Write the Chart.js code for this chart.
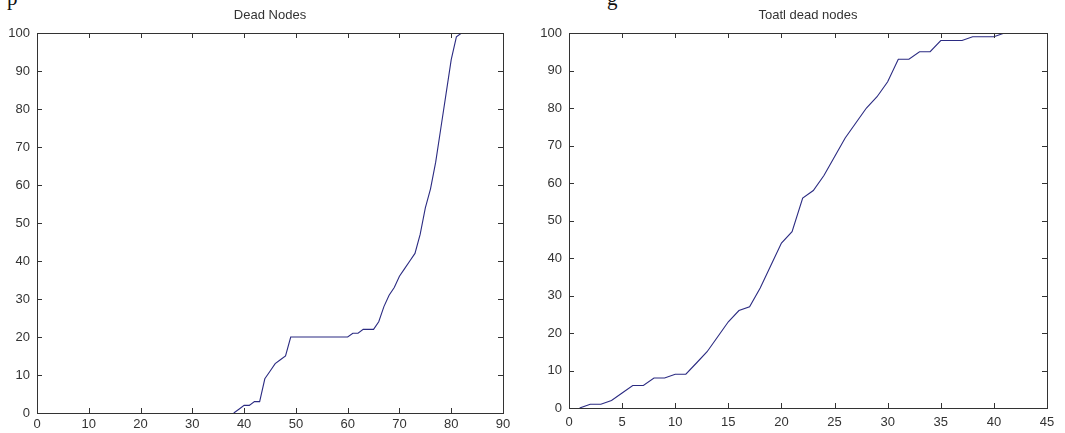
<!DOCTYPE html>
<html>
<head>
<meta charset="utf-8">
<script src="https://cdn.jsdelivr.net/npm/chart.js@4.4.1/dist/chart.umd.min.js"></script>
<style>
  body { margin: 0; background: #fff; width: 1065px; height: 433px; overflow: hidden; position: relative; }
  canvas { position: absolute; top: 0; }
  .cut { position: absolute; top: -14px; font: 21px 'Liberation Serif', 'Times New Roman', serif; color: #111; }
</style>
</head>
<body>
<div class="cut" style="left:7px;">p</div>
<div class="cut" style="left:607px;">g</div>
<canvas id="deadChart" width="530" height="433" style="left:0;"></canvas>
<canvas id="totalChart" width="535" height="433" style="left:530px;"></canvas>
<script>
// --- DATA ---
const deadRounds = [38, 39, 40, 41, 42, 43, 44, 45, 46, 47, 48, 49, 50, 51, 52, 53, 54, 55, 56, 57, 58, 59, 60,
  61, 62, 63, 64, 65, 66, 67, 68, 69, 70, 71, 72, 73, 74, 75, 76, 77, 78, 79, 80, 81, 82];
const deadNodes = [0, 1, 2, 2, 3, 3, 9, 11, 13, 14, 15, 20, 20, 20, 20, 20, 20, 20, 20, 20, 20, 20, 20,
  21, 21, 22, 22, 22, 24, 28, 31, 33, 36, 38, 40, 42, 47, 54, 59, 66, 75, 84, 93, 99, 100];

const totalRounds = [1, 2, 3, 4, 5, 6, 7, 8, 9, 10, 11, 12, 13, 14, 15, 16, 17, 18, 19, 20, 21,
  22, 23, 24, 25, 26, 27, 28, 29, 30, 31, 32, 33, 34, 35, 36, 37, 38, 39, 40, 41];
const totalDead = [0, 1, 1, 2, 4, 6, 6, 8, 8, 9, 9, 12, 15, 19, 23, 26, 27, 32, 38, 44, 47,
  56, 58, 62, 67, 72, 76, 80, 83, 87, 93, 93, 95, 95, 98, 98, 98, 99, 99, 99, 100];

const yTicks = [0, 10, 20, 30, 40, 50, 60, 70, 80, 90, 100];

const lineColor = '#2b2b82';
const tickFont = { family: "'Liberation Sans', Arial, sans-serif", size: 13 };
const titleFont = { family: "'Liberation Sans', Arial, sans-serif", size: 13, weight: 'normal' };

// box round the plot area with inward tick marks, matlab style
const matlabBox = {
    id: 'matlabBox',
    afterDraw(chart) {
        const ctx = chart.ctx;
        const { left, right, top, bottom } = chart.chartArea;
        const tl = 5;
        ctx.save();
        ctx.strokeStyle = '#333';
        ctx.lineWidth = 1;
        ctx.strokeRect(Math.round(left) + 0.5, Math.round(top) + 0.5, Math.round(right - left), Math.round(bottom - top));
        ctx.beginPath();
        chart.scales.x.ticks.forEach(t => {
            const px = Math.round(chart.scales.x.getPixelForValue(t.value)) + 0.5;
            ctx.moveTo(px, bottom); ctx.lineTo(px, bottom - tl);
            ctx.moveTo(px, top); ctx.lineTo(px, top + tl);
        });
        chart.scales.y.ticks.forEach(t => {
            const py = Math.round(chart.scales.y.getPixelForValue(t.value)) + 0.5;
            ctx.moveTo(left, py); ctx.lineTo(left + tl, py);
            ctx.moveTo(right, py); ctx.lineTo(right - tl, py);
        });
        ctx.stroke();
        ctx.restore();
    }
};

function makeChart(id, rounds, values, opts) {
    const points = rounds.map((r, i) => ({ x: r, y: values[i] }));
    return new Chart(document.getElementById(id), {
        type: 'line',
        data: {
            datasets: [{
                data: points,
                borderColor: lineColor,
                borderWidth: 1.1,
                pointRadius: 0,
                tension: 0,
                fill: false
            }]
        },
        options: {
            responsive: false,
            animation: false,
            layout: { padding: { left: 0, right: opts.padRight, top: 0, bottom: 0 } },
            plugins: {
                legend: { display: false },
                tooltip: { enabled: false },
                title: {
                    display: true,
                    text: opts.title,
                    fullSize: false,
                    color: '#333',
                    font: titleFont,
                    padding: { top: 8, bottom: 9.4 }
                }
            },
            scales: {
                x: {
                    type: 'linear',
                    min: 0, max: opts.xMax,
                    grid: { display: false, drawTicks: false },
                    border: { display: false },
                    afterBuildTicks: scale => { scale.ticks = opts.xTicks.map(v => ({ value: v })); },
                    afterFit: scale => { scale.height = opts.xHeight; },
                    ticks: { color: '#333', font: tickFont, padding: opts.xPad, maxRotation: 0, autoSkip: false }
                },
                y: {
                    min: 0, max: 100,
                    grid: { display: false, drawTicks: false },
                    border: { display: false },
                    afterBuildTicks: scale => { scale.ticks = yTicks.map(v => ({ value: v })); },
                    afterFit: scale => { scale.width = opts.yWidth; },
                    ticks: { color: '#333', font: tickFont, padding: 7 }
                }
            }
        },
        plugins: [matlabBox]
    });
}

makeChart('deadChart', deadRounds, deadNodes, {
    title: 'Dead Nodes',
    xMax: 90,
    xTicks: [0, 10, 20, 30, 40, 50, 60, 70, 80, 90],
    padRight: 27, xHeight: 20, yWidth: 37, xPad: 4
});

makeChart('totalChart', totalRounds, totalDead, {
    title: 'Toatl dead nodes',
    xMax: 45,
    xTicks: [0, 5, 10, 15, 20, 25, 30, 35, 40, 45],
    padRight: 18, xHeight: 25, yWidth: 39, xPad: 7
});
</script>
</body>
</html>
